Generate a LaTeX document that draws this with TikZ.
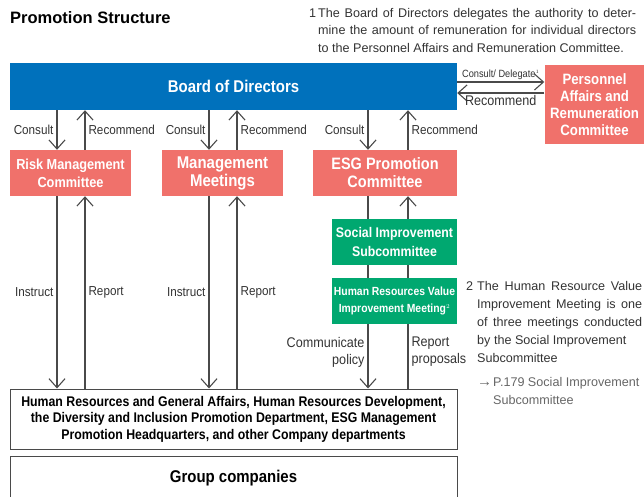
\documentclass[tikz,border=0pt]{standalone}
\usepackage{fontspec}
\setmainfont{Liberation Sans}
\newfontfamily\condfont{Liberation Sans}[FakeStretch=0.88]
\newfontfamily\labelfont{Liberation Sans}[FakeStretch=0.9]
\usetikzlibrary{arrows.meta, positioning, calc}
\definecolor{boardblue}{HTML}{0071BC}
\definecolor{cmtred}{HTML}{F0716B}
\definecolor{subgreen}{HTML}{00A870}
\definecolor{linegray}{HTML}{4A4A4A}
\definecolor{textgray}{HTML}{333333}
\definecolor{refgray}{HTML}{666666}

\begin{document}
\begin{tikzpicture}[x=1pt, y=-1pt,
    unit/.style={rectangle, fill=#1, text=white, inner sep=0pt, align=center},
    dept/.style={rectangle, draw=linegray, fill=white, line width=1pt, inner sep=0pt, align=center, text=black},
    arrow/.style={-{Straight Barb[length=9pt, width=16pt]}, line width=1.1pt, color=linegray},
    lbl/.style={font=\labelfont\fontsize{13}{17}\selectfont, text=textgray, inner sep=3pt},
    note/.style={font=\fontsize{12.6}{17.5}\selectfont, text=textgray, inner sep=0pt, anchor=north west, align=justify}
]
\useasboundingbox (0,0) rectangle (644,497);

% Title and notes
\node[font=\bfseries\fontsize{16.5}{18}\selectfont, anchor=west, inner sep=0pt] (title) at (10,18) {Promotion Structure};
\node[note, text width=327pt] (note1) at (309,8) {\makebox[9pt][l]{1}The Board of Directors delegates the authority to deter-\linebreak
  \hspace*{9pt}mine the amount of remuneration for individual directors\linebreak
  \hspace*{9pt}to the Personnel Affairs and Remuneration Committee.};

% Board
\node[unit=boardblue, minimum width=447pt, minimum height=47pt, font=\condfont\bfseries\fontsize{17}{18}\selectfont] (board) at (233.5,86.5) {Board of Directors};
\node[unit=cmtred, minimum width=100pt, minimum height=79pt, font=\condfont\bfseries\fontsize{15}{17}\selectfont] (personnel) at (594.5,104.5) {Personnel\\Affairs and\\Remuneration\\Committee};

% Committees
\node[unit=cmtred, minimum width=121pt, minimum height=46pt, font=\condfont\bfseries\fontsize{14.5}{18}\selectfont] (risk) at (70.5,173) {Risk Management\\Committee};
\node[unit=cmtred, minimum width=121pt, minimum height=46pt, font=\condfont\bfseries\fontsize{17}{18}\selectfont] (mgmt) at (222.5,173) {Management\\Meetings};
\node[unit=cmtred, minimum width=144pt, minimum height=46pt, font=\condfont\bfseries\fontsize{16.5}{18}\selectfont] (esg) at (385,173) {ESG Promotion\\Committee};

% Departments
\node[dept, minimum width=447pt, minimum height=60pt, font=\condfont\bfseries\fontsize{14}{16.5}\selectfont] (dept) at (233.5,419) {Human Resources and General Affairs, Human Resources Development,\\the Diversity and Inclusion Promotion Department, ESG Management\\Promotion Headquarters, and other Company departments};
\node[dept, minimum width=447pt, minimum height=44pt, font=\condfont\bfseries\fontsize{17}{18}\selectfont] (group) at (233.5,478) {Group companies};

% Board <-> Personnel
\draw[arrow] ($(board.east)+(0,-4.5)$) -- ($(board.east -| personnel.west)+(0,-4.5)$)
  node[lbl, midway, above, font=\condfont\fontsize{10.5}{12}\selectfont, inner sep=2pt] {Consult/ Delegate$^{\scriptscriptstyle 1}$};
\draw[arrow] ($(board.east -| personnel.west)+(0,6.5)$) -- ($(board.east)+(0,6.5)$)
  node[lbl, midway, below, inner sep=1.5pt, font=\labelfont\fontsize{14}{17}\selectfont] {Recommend};

% Board <-> committees
\foreach \c/\dn/\up in {risk/-13.5/14.5, mgmt/-13.5/14.5, esg/-17/23} {
  \draw[arrow] ($(\c.north |- board.south)+(\dn,0)$) -- ($(\c.north)+(\dn,0)$) node[lbl, midway, left] {Consult};
  \draw[arrow] ($(\c.north)+(\up,0)$) -- ($(\c.north |- board.south)+(\up,0)$) node[lbl, midway, right] {Recommend};
}

% Committees <-> departments
\foreach \c in {risk, mgmt} {
  \draw[arrow] ($(\c.south)+(-13.5,0)$) -- ($(\c.south |- dept.north)+(-13.5,0)$) node[lbl, midway, left] {Instruct};
  \draw[arrow] ($(\c.south |- dept.north)+(14.5,0)$) -- ($(\c.south)+(14.5,0)$) node[lbl, midway, right] {Report};
}
\draw[arrow] ($(esg.south)+(-17,0)$) -- ($(esg.south |- dept.north)+(-17,0)$)
  node[lbl, pos=0.81, left, align=right, font=\labelfont\fontsize{14}{17}\selectfont] {Communicate\\policy};
\draw[arrow] ($(esg.south |- dept.north)+(23,0)$) -- ($(esg.south)+(23,0)$)
  node[lbl, pos=0.19, right, align=left, font=\labelfont\fontsize{14}{17}\selectfont] {Report\\proposals};

% Subcommittee and meeting
\node[unit=subgreen, minimum width=125pt, minimum height=46pt, font=\condfont\bfseries\fontsize{14}{19}\selectfont] (social) at (394.5,242) {Social Improvement\\Subcommittee};
\node[unit=subgreen, minimum width=125pt, minimum height=46pt, font=\condfont\bfseries\fontsize{11.8}{17}\selectfont] (hrvalue) at (394.5,301) {Human Resources Value\\Improvement Meeting$^{\scriptscriptstyle 2}$};

% Note 2
\node[note, text width=176pt, font=\fontsize{12.6}{18}\selectfont] (note2) at (466,281) {\makebox[11pt][l]{2}The Human Resource Value\linebreak
  \hspace*{11pt}Improvement Meeting is one\linebreak
  \hspace*{11pt}of three meetings conducted\linebreak
  \hspace*{11pt}by the Social Improvement\\
  \hspace*{11pt}Subcommittee};
\node[note, text=refgray, align=left, font=\fontsize{12.6}{18}\selectfont] (pageref) at (477,377) {\makebox[16pt][l]{\fontsize{15}{18}\selectfont →}P.179 Social Improvement\\
  \hspace*{16pt}Subcommittee};

\end{tikzpicture}
\end{document}
